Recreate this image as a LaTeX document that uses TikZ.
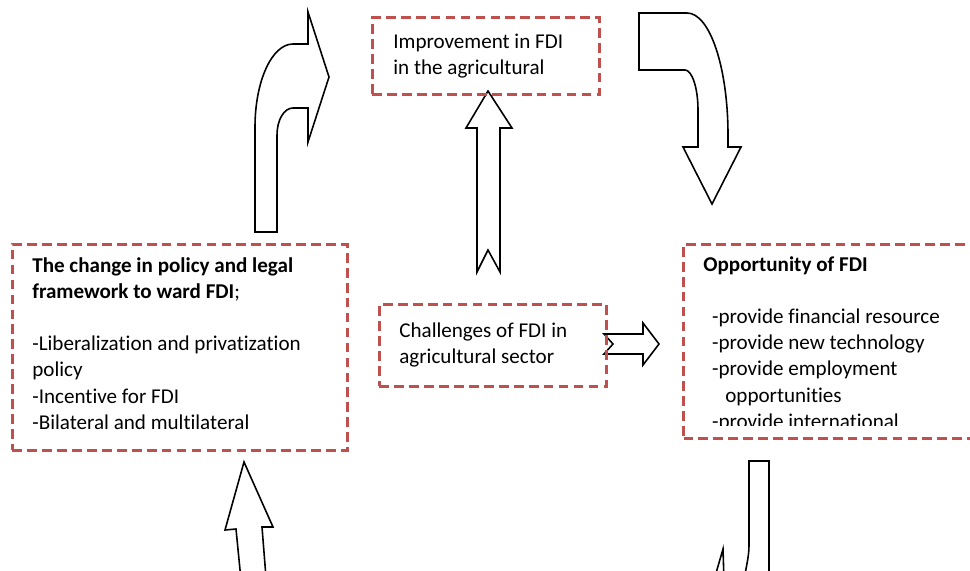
\documentclass[tikz,border=0pt]{standalone}
\usepackage{fontspec}
\setmainfont{Carlito}[Ligatures=NoCommon]
\definecolor{boxred}{HTML}{C0504D}
\tikzset{
  dbox/.style={draw=boxred, line width=1.7pt, dash pattern=on 5.5pt off 3pt,
    inner sep=0pt, anchor=north west},
  blockarrow/.style={draw=black, line width=0.9pt, fill=white, line join=miter},
  txt/.style={inner sep=0pt, anchor=base west, align=left,
    font=\fontsize{12}{14.8}\selectfont}
}

\begin{document}
\begin{tikzpicture}[x=0.02cm, y=-0.02cm]
  \useasboundingbox (0,0) rectangle (970,571);
  \clip (0,0) rectangle (970,571);

  % block arrows
  \draw[blockarrow] (255,232) -- (255,127) .. controls (255,81) and (272,44) .. (293,44)
    -- (308,44) -- (308,12) -- (329,77) -- (308,142) -- (308,108) -- (293,108)
    .. controls (284,108) and (277,120) .. (277,135) -- (277,232) -- cycle;
  \draw[blockarrow] (639,13) -- (687,13) .. controls (710,13) and (728,68) .. (728,135)
    -- (728,147) -- (741,147) -- (712,204) -- (683,147) -- (698,147) -- (698,110)
    .. controls (698,88) and (692,70) .. (685,70) -- (639,70) -- cycle;
  \draw[blockarrow] (488,91) -- (512,128) -- (500,128) -- (500,272) -- (488,250)
    -- (477,272) -- (477,128) -- (466,128) -- cycle;
  \draw[blockarrow] (604,334) -- (643,334) -- (643,323) -- (659,344) -- (643,365)
    -- (643,354) -- (604,354) -- (613,344) -- cycle;
  \draw[blockarrow] (244,462) -- (273,527) -- (262,527) -- (267,590) -- (242,590)
    -- (236,529) -- (225,530) -- cycle;
  \draw[blockarrow] (769,590) -- (769,461) -- (749,461) -- (749,545)
    .. controls (749,556) and (747,563) .. (742,590);
  \draw[blockarrow, fill=none] (714,580) -- (723,549) -- (724,580);

  % dashed boxes
  \node[dbox, minimum width=4.54cm, minimum height=1.54cm] (improve) at (371,16) {};
  \node[dbox, minimum width=6.70cm, minimum height=4.12cm] (policy) at (11,243) {};
  \node[dbox, minimum width=4.54cm, minimum height=1.64cm] (challenge) at (378,303) {};
  \node[dbox, minimum width=6.40cm, minimum height=3.88cm] (oppor) at (682,243) {};

  % box texts (placed by the baseline of their last line)
  \node[txt] (improvetxt) at (393,75) {Improvement in FDI\\in the agricultural};
  \node[txt] (policytxt) at (32,429) {\textbf{The change in policy and legal}\\
    \textbf{framework to ward FDI};\\[14.8pt]
    -Liberalization and privatization\\policy\\-Incentive for FDI\\
    -Bilateral and multilateral};
  \node[txt] (challengetxt) at (399,363) {Challenges of FDI in\\agricultural sector};
  \begin{scope}
    \clip (682,243) rectangle (970,425);
    \node[txt] (opportxt) at (703,428) {\textbf{Opportunity of FDI}\\[14.8pt]
      \hspace*{5pt}-provide financial resource\\
      \hspace*{5pt}-provide new technology\\
      \hspace*{5pt}-provide employment\\
      \hspace*{12.5pt}opportunities\\
      \hspace*{5pt}-provide international};
  \end{scope}
\end{tikzpicture}
\end{document}
